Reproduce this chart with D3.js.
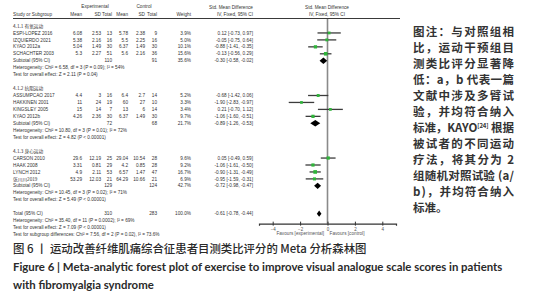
<!DOCTYPE html>
<html>
<head>
<meta charset="utf-8">
<script src="https://cdn.jsdelivr.net/npm/d3@7"></script>
<style>
  body { margin: 0; background: #fff; }
  svg { display: block; }
</style>
</head>
<body>
<div id="chart"></div>
<script>
// data
const groupNames = ["4.1.1 有氧运动", "4.1.2 抗阻运动", "4.1.3 身心运动"];
const studies = ["ESPI-LOPEZ 2016", "IZQUIERDO 2021", "KYAO 2012a", "SCHACHTER 2003",
  "ASSUMPCAO 2017", "HAKKINEN 2001", "KINGSLEY 2005", "KYAO 2012b",
  "CARSON 2010", "HAAK 2008", "LYNCH 2012", "张川川2019"];
const studyGroup = [0, 0, 0, 0, 1, 1, 1, 1, 2, 2, 2, 2];
const expMean = [6.08, 5.38, 5.04, 5.3, 4.4, 11, 15, 4.26, 29.6, 3.31, 4.9, 53.29];
const expSD = [2.53, 2.16, 1.49, 2.27, 3, 24, 14, 2.36, 12.19, 0.81, 2.11, 12.03];
const expN = [13, 16, 30, 51, 16, 19, 7, 30, 25, 29, 53, 21];
const ctlMean = [5.78, 5.5, 6.37, 5.6, 6.4, 60, 13, 6.37, 29.04, 4.2, 6.57, 64.29];
const ctlSD = [2.38, 2.25, 1.49, 2.16, 2.7, 27, 6, 1.49, 10.54, 0.85, 1.47, 10.66];
const ctlN = [9, 16, 30, 36, 14, 10, 14, 30, 28, 28, 47, 21];
const weight = [3.9, 5.0, 10.1, 15.6, 5.2, 3.3, 3.4, 9.7, 9.6, 9.2, 16.7, 6.9];
const smd = [0.12, -0.05, -0.88, -0.13, -0.68, -1.90, 0.21, -1.06, 0.05, -1.06, -0.90, -0.95];
const ciLow = [-0.73, -0.75, -1.41, -0.56, -1.42, -2.83, -0.70, -1.60, -0.49, -1.61, -1.31, -1.59];
const ciHigh = [0.97, 0.64, -0.35, 0.29, 0.06, -0.97, 1.12, -0.51, 0.59, -0.50, -0.49, -0.31];

const subExpN = [110, 72, 129];
const subCtlN = [91, 68, 124];
const subWeight = [35.6, 21.7, 42.7];
const subSmd = [-0.30, -0.89, -0.72];
const subLow = [-0.58, -1.26, -0.98];
const subHigh = [-0.02, -0.53, -0.47];
const subHet = [
  "Heterogeneity: Chi² = 6.58, df = 3 (P = 0.09); I² = 54%",
  "Heterogeneity: Chi² = 10.80, df = 3 (P = 0.01); I² = 72%",
  "Heterogeneity: Chi² = 10.45, df = 3 (P = 0.02); I² = 71%"];
const subTest = [
  "Test for overall effect: Z = 2.11 (P = 0.04)",
  "Test for overall effect: Z = 4.82 (P < 0.00001)",
  "Test for overall effect: Z = 5.49 (P < 0.00001)"];

const totalExpN = 310, totalCtlN = 283, totalWeight = 100.0;
const totalSmd = -0.61, totalLow = -0.78, totalHigh = -0.44;
const totalNotes = [
  "Heterogeneity: Chi² = 35.40, df = 11 (P = 0.0002); I² = 69%",
  "Test for overall effect: Z = 7.09 (P < 0.00001)",
  "Test for subgroup differences: Chi² = 7.56, df = 2 (P = 0.02), I² = 73.6%"];

const axisTicks = [-4, -2, 0, 2, 4];
const favours = ["Favours [experimental]", "Favours [control]"];

const noteLines = ["图注：与对照组相", "比，运动干预组目", "测类比评分显著降", "低：a，b 代表一篇",
  "文献中涉及多臂试", "验，并均符合纳入", "标准，KAYO[24] 根据", "被试者的不同运动",
  "疗法，将其分为 2", "组随机对照试验 (a/", "b)，并均符合纳入", "标准。"];
const captionCn = "图 6 丨 运动改善纤维肌痛综合征患者目测类比评分的 Meta 分析森林图";
const captionEn = ["Figure 6 |  Meta-analytic forest plot of exercise to improve visual analogue scale scores in patients",
  "with fibromyalgia syndrome"];

const width = 536, height = 300;
const svg = d3.select("#chart").append("svg")
  .attr("width", width).attr("height", height);

// build the row list the way RevMan lays it out
const rows = [];
groupNames.forEach((g, gi) => {
  rows.push({ type: "group", g: gi });
  studies.forEach((s, i) => { if (studyGroup[i] === gi) rows.push({ type: "study", i: i }); });
  rows.push({ type: "sub", g: gi });
  rows.push({ type: "het", g: gi });
  rows.push({ type: "test", g: gi });
  rows.push({ type: "blank" });
});
rows.push({ type: "total" });
totalNotes.forEach((t, k) => rows.push({ type: "note", k: k }));

const rowStep = 6.95;
const y = d3.scaleLinear().domain([0, rows.length - 1])
  .range([26, 26 + (rows.length - 1) * rowStep]);
const x = d3.scaleLinear().domain([-5, 5]).range([259, 396]);

const col = { study: 13, m1: 82, sd1: 101, n1: 112, m2: 128, sd2: 145, n2: 157, w: 191, ci: 253 };
const txtColor = "#333";
const fs = 4.7;

const fp = svg.append("g")
  .attr("font-family", "'Liberation Sans', Arial, sans-serif")
  .attr("font-size", fs)
  .attr("fill", txtColor);

function put(xp, yp, t, anchor) {
  return fp.append("text")
    .attr("x", xp).attr("y", yp).attr("dy", "0.35em")
    .attr("text-anchor", anchor || "start")
    .text(t);
}
const fmtCI = (m, lo, hi) => `${m.toFixed(2)} [${lo.toFixed(2)}, ${hi.toFixed(2)}]`;

// headers
put(95, 6, "Experimental", "middle");
put(144, 6, "Control", "middle");
put(231, 7, "Std. Mean Difference", "middle");
put(327, 7, "Std. Mean Difference", "middle");
put(col.study, 14, "Study or Subgroup");
put(col.m1, 14, "Mean", "end");
put(col.sd1, 14, "SD", "end");
put(col.n1, 14, "Total", "end");
put(col.m2, 14, "Mean", "end");
put(col.sd2, 14, "SD", "end");
put(col.n2, 14, "Total", "end");
put(col.w, 14, "Weight", "end");
put(235, 14, "IV, Fixed, 95% CI", "middle");
put(327, 14, "IV, Fixed, 95% CI", "middle");

svg.append("line")
  .attr("x1", col.study).attr("x2", 400)
  .attr("y1", 18.5).attr("y2", 18.5)
  .attr("stroke", "#222").attr("stroke-width", 0.9);

// zero line
svg.append("line")
  .attr("x1", x(0)).attr("x2", x(0))
  .attr("y1", 19).attr("y2", y(rows.length - 4) + 10)
  .attr("stroke", "#8a8a8a").attr("stroke-width", 1.6);

rows.forEach((r, ri) => {
  const yy = y(ri);
  if (r.type === "group") {
    put(col.study, yy, groupNames[r.g]).attr("font-family", "'Noto Sans CJK SC', sans-serif");
  } else if (r.type === "study") {
    const i = r.i;
    put(col.study, yy, studies[i]).attr("font-family", /[\u4e00-\u9fff]/.test(studies[i]) ? "'Noto Sans CJK SC', sans-serif" : null);
    put(col.m1, yy, String(expMean[i]), "end");
    put(col.sd1, yy, String(expSD[i]), "end");
    put(col.n1, yy, String(expN[i]), "end");
    put(col.m2, yy, String(ctlMean[i]), "end");
    put(col.sd2, yy, String(ctlSD[i]), "end");
    put(col.n2, yy, String(ctlN[i]), "end");
    put(col.w, yy, weight[i].toFixed(1) + "%", "end");
    put(col.ci, yy, fmtCI(smd[i], ciLow[i], ciHigh[i]), "end");
    svg.append("line")
      .attr("x1", x(ciLow[i])).attr("x2", x(ciHigh[i]))
      .attr("y1", yy).attr("y2", yy)
      .attr("stroke", "#3c3c3c").attr("stroke-width", 1.3);
    const s = 2 + Math.sqrt(weight[i]) * 0.4;
    svg.append("rect")
      .attr("x", x(smd[i]) - s / 2).attr("y", yy - s / 2)
      .attr("width", s).attr("height", s)
      .attr("fill", "#2fb43a");
  } else if (r.type === "sub") {
    const g = r.g;
    put(col.study, yy, "Subtotal (95% CI)");
    put(col.n1, yy, String(subExpN[g]), "end");
    put(col.n2, yy, String(subCtlN[g]), "end");
    put(col.w, yy, subWeight[g].toFixed(1) + "%", "end");
    put(col.ci, yy, fmtCI(subSmd[g], subLow[g], subHigh[g]), "end");
    diamond(subSmd[g], subLow[g], subHigh[g], yy);
  } else if (r.type === "het") {
    put(col.study, yy, subHet[r.g]);
  } else if (r.type === "test") {
    put(col.study, yy, subTest[r.g]);
  } else if (r.type === "total") {
    put(col.study, yy, "Total (95% CI)");
    put(col.n1, yy, String(totalExpN), "end");
    put(col.n2, yy, String(totalCtlN), "end");
    put(col.w, yy, totalWeight.toFixed(1) + "%", "end");
    put(col.ci, yy, fmtCI(totalSmd, totalLow, totalHigh), "end");
    diamond(totalSmd, totalLow, totalHigh, yy);
  } else if (r.type === "note") {
    put(col.study, yy, totalNotes[r.k]);
  }
});

function diamond(m, lo, hi, yy) {
  const h = 3.2;
  svg.append("polygon")
    .attr("points", [[x(lo), yy], [x(m), yy - h], [x(hi), yy], [x(m), yy + h]].map(p => p.join(",")).join(" "))
    .attr("fill", "#000");
}

// bottom axis
const axisY = y(rows.length - 4) + 10;
const axisG = svg.append("g")
  .attr("transform", `translate(0, ${axisY})`)
  .call(d3.axisBottom(x).tickValues(axisTicks).tickSizeOuter(0).tickSize(2));
axisG.select(".domain").attr("stroke", "#333").attr("stroke-width", 1.2);
axisG.selectAll(".tick line").attr("y1", -2).attr("y2", 2).attr("stroke", "#333");
axisG.selectAll(".tick text")
  .attr("font-family", "'Liberation Sans', Arial, sans-serif")
  .attr("font-size", 4.5).attr("fill", "#555").attr("y", 4);

put(x(-0.25), axisY + 10, favours[0], "end").attr("fill", "#555");
put(x(0.15), axisY + 10, favours[1]).attr("fill", "#555");

// right-hand note, justified
const note = svg.append("g")
  .attr("font-family", "'Noto Sans CJK SC', sans-serif")
  .attr("font-weight", 700)
  .attr("font-size", 11.5)
  .attr("fill", "#333");
noteLines.forEach((t, k) => {
  const el = note.append("text")
    .attr("x", 413).attr("y", 32 + k * 16).attr("dy", "0.35em");
  const m = t.match(/^(.*KAYO)(\[24\])(.*)$/);
  if (m) {
    el.append("tspan").text(m[1]);
    el.append("tspan").attr("font-size", 6).attr("dy", -4).text(m[2]);
    el.append("tspan").attr("dy", 4).text(m[3]);
  } else {
    el.text(t);
  }
  if (k < noteLines.length - 1) el.attr("textLength", 101).attr("lengthAdjust", "spacing");
});

// captions, sized to the widths seen in the figure
function fitText(el, target) {
  const w = el.node().getComputedTextLength();
  const f = parseFloat(el.attr("font-size"));
  el.attr("font-size", f * target / w);
}
const cap1 = svg.append("text")
  .attr("x", 13).attr("y", 249).attr("dy", "0.35em")
  .attr("font-family", "'Noto Sans CJK SC', sans-serif")
  .attr("font-weight", 500)
  .attr("font-size", 12).attr("fill", "#2a2a2a")
  .text(captionCn);
fitText(cap1, 354);

const cap2 = svg.append("text")
  .attr("x", 13).attr("y", 267).attr("dy", "0.35em")
  .attr("font-family", "Lato, 'Open Sans', sans-serif")
  .attr("font-weight", 700)
  .attr("font-size", 11).attr("fill", "#2a2a2a")
  .text(captionEn[0]);
fitText(cap2, 490);
svg.append("text")
  .attr("x", 13).attr("y", 285).attr("dy", "0.35em")
  .attr("font-family", "Lato, 'Open Sans', sans-serif")
  .attr("font-weight", 700)
  .attr("font-size", cap2.attr("font-size")).attr("fill", "#2a2a2a")
  .text(captionEn[1]);
</script>
</body>
</html>
